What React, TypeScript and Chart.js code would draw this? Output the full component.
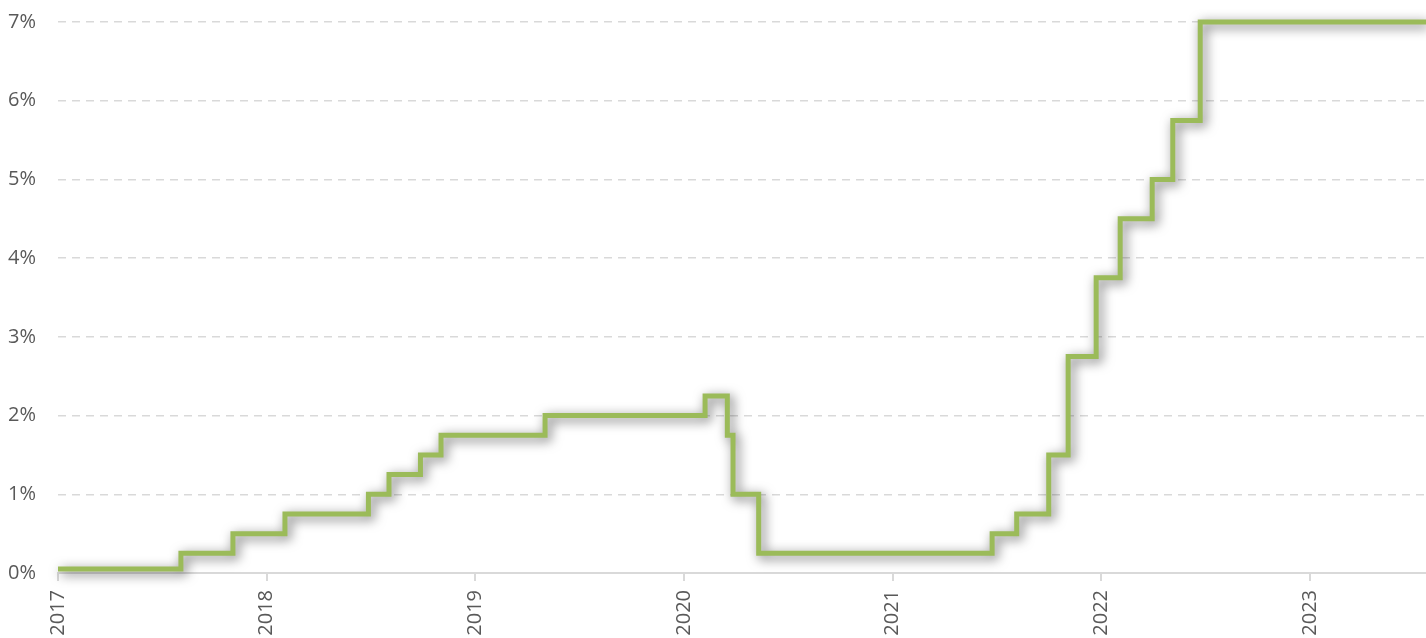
import React, { useEffect, useRef } from "react";
import { Chart, registerables } from "chart.js";

Chart.register(...registerables);

const changeDates: string[] = [
  "2017-01-01", "2017-08-04", "2017-11-03", "2018-02-02", "2018-06-28",
  "2018-08-03", "2018-09-27", "2018-11-02", "2019-05-03", "2020-02-07",
  "2020-03-17", "2020-03-27", "2020-05-11", "2021-06-24", "2021-08-06",
  "2021-10-01", "2021-11-04", "2021-12-23", "2022-02-03", "2022-03-31",
  "2022-05-06", "2022-06-23", "2023-07-23",
];
const rates: number[] = [
  0.05, 0.25, 0.5, 0.75, 1.0,
  1.25, 1.5, 1.75, 2.0, 2.25,
  1.75, 1.0, 0.25, 0.5, 0.75,
  1.5, 2.75, 3.75, 4.5, 5.0,
  5.75, 7.0, 7.0,
];
const yearTicks: number[] = [2017, 2018, 2019, 2020, 2021, 2022, 2023];
const yTicks: number[] = [0, 1, 2, 3, 4, 5, 6, 7];
const xMin = 2017;
const xMax = 2023.556;

function toDecimalYear(s: string): number {
  const [y, m, d] = s.split("-").map(Number);
  const start = Date.UTC(y, 0, 1);
  const next = Date.UTC(y + 1, 0, 1);
  const t = Date.UTC(y, m - 1, d);
  return y + (t - start) / (next - start);
}

const shadowPlugin = {
  id: "lineShadow",
  beforeDatasetDraw(chart: any) {
    const ctx = chart.ctx;
    ctx.save();
    ctx.shadowColor = "rgba(0,0,0,0.6)";
    ctx.shadowBlur = 12;
    ctx.shadowOffsetX = 3;
    ctx.shadowOffsetY = 3;
  },
  afterDatasetDraw(chart: any) {
    chart.ctx.restore();
  },
};

export default function App() {
  const ref = useRef<HTMLCanvasElement | null>(null);
  useEffect(() => {
    if (!ref.current) return;
    const font = { family: "'Open Sans', 'Liberation Sans', sans-serif", size: 20 };
    const chart = new Chart(ref.current, {
      type: "line",
      data: {
        datasets: [
          {
            data: changeDates.map((d, i) => ({ x: toDecimalYear(d), y: rates[i] })),
            borderColor: "#9BBB59",
            borderWidth: 5,
            stepped: "before",
            pointRadius: 0,
            fill: false,
            clip: false,
            borderJoinStyle: "miter",
          } as any,
        ],
      },
      options: {
        animation: false,
        responsive: false,
        maintainAspectRatio: false,
        layout: { padding: { top: 22, right: 0, left: 0, bottom: 0 } },
        plugins: { legend: { display: false }, tooltip: { enabled: false } },
        scales: {
          x: {
            type: "linear",
            min: xMin,
            max: xMax,
            afterBuildTicks: (scale: any) => {
              scale.ticks = yearTicks.map((v) => ({ value: v }));
            },
            afterFit: (scale: any) => {
              scale.height = 65;
              scale.paddingLeft = 0;
              scale.paddingRight = 0;
            },
            grid: {
              drawOnChartArea: false,
              drawTicks: true,
              tickLength: 8,
              color: "#d9d9d9",
              lineWidth: 2,
            },
            border: { display: true, color: "#d9d9d9", width: 2 },
            ticks: {
              minRotation: 90,
              maxRotation: 90,
              padding: 9,
              color: "#595959",
              font,
              autoSkip: false,
              callback: (v: any) => String(v),
            },
          },
          y: {
            type: "linear",
            min: 0,
            max: 7,
            afterBuildTicks: (scale: any) => {
              scale.ticks = yTicks.map((v) => ({ value: v }));
            },
            afterFit: (scale: any) => {
              scale.width = 58;
              scale.paddingTop = 0;
              scale.paddingBottom = 0;
            },
            grid: {
              drawTicks: false,
              color: "#d9d9d9",
              lineWidth: 1.5,
            },
            border: { display: false, dash: [8, 6] },
            ticks: {
              padding: 22,
              color: "#595959",
              font,
              callback: (v: any) => v + "%",
            },
          },
        },
      },
      plugins: [shadowPlugin],
    });
    return () => chart.destroy();
  }, []);
  return (
    <div style={{ position: "fixed", left: 0, top: 0, width: 1426, height: 638, background: "#fff" }}>
      <canvas ref={ref} width={1426} height={638} style={{ display: "block" }} />
    </div>
  );
}
